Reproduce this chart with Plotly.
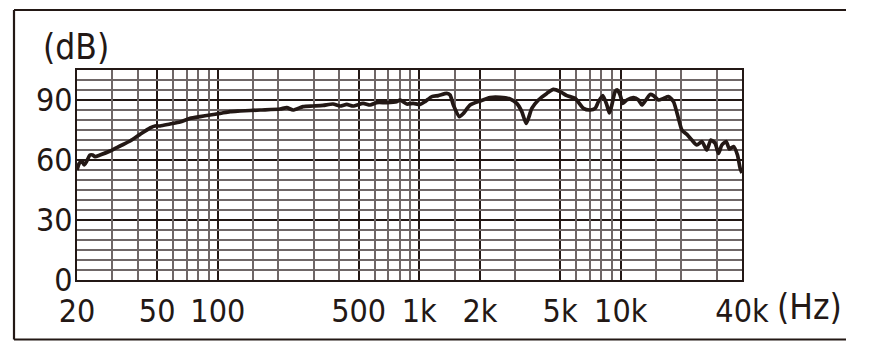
import math
import plotly.graph_objects as go

# ---- data ----
freq_hz = [20, 20.5, 21.1, 21.7, 22.3, 23.2, 23.9, 24.6, 26, 29.2, 32.7, 36.7, 41.1, 46.1, 48.8, 51.7,
           57.9, 64.9, 72.8, 81.6, 91.5, 102.6, 115, 128.9, 162, 203.6, 219.9, 236.3, 265, 297, 333,
           373, 404.6, 436.6, 469.4, 526, 570, 615, 690, 773, 803, 867, 932, 1010, 1069, 1154, 1244,
           1370, 1422, 1477, 1582, 1656, 1788, 2004, 2248, 2520, 2825, 3049, 3228, 3392, 3482, 3620,
           3904, 4298, 4634, 5004, 5402, 5940, 6532, 7050, 7466, 7752, 8152, 8534, 8790, 9036, 9384,
           9632, 9934, 10246, 10726, 11566, 12248, 12732, 13222, 14002, 14540, 15396, 16300, 17258,
           18274, 19348, 20116, 21300, 22550, 23880, 25280, 26770, 28030, 29440, 30570, 31770, 33380,
           34660, 36290, 37980, 39170, 40000]
level_db = [55, 58.3, 59.5, 57.5, 59.2, 62.5, 62.5, 61.7, 62.5, 64.5, 67, 69.5, 72.8, 76, 77, 77,
            78, 79, 80.8, 81.7, 82.5, 83.3, 84.2, 84.5, 85, 85.5, 86.2, 85, 86.7, 87, 87.3,
            88, 87, 87.8, 87, 88.3, 87.5, 88.7, 88.7, 89.2, 90, 88, 88.3, 87.8, 89.2, 91.7, 92.2,
            93.3, 92.5, 87.5, 81.7, 83.3, 87.5, 89.5, 91.2, 91.3, 90.5, 88.3, 84.2, 78.3, 80.8, 85.8,
            90, 93.3, 95.3, 94.2, 92.2, 90.8, 85.8, 85, 85.8, 89.2, 92.2, 87.5, 83.5, 87.5, 94.2,
            95, 92.5, 88.3, 90, 91.2, 90, 87.5, 89.5, 92.8, 92.2, 90, 90.8, 91.7,
            89.2, 80.8, 75, 72.8, 70, 67.5, 69.2, 65, 70, 68.3, 63.3, 67.5, 69.2,
            65.5, 66.7, 62.5, 55.8, 53.5]

x_tick_vals = [20, 50, 100, 500, 1000, 2000, 5000, 10000, 40000]
x_tick_text = ["20", "50", "100", "500", "1k", "2k", "5k", "10k", "40k"]
x_minor_vals = [30, 40, 60, 70, 80, 90, 150, 200, 300, 400, 600, 700, 800, 900, 1500, 3000,
                6000, 7000, 8000, 9000, 15000, 20000, 30000]
y_tick_vals = [0, 30, 60, 90]
y_minor_vals = [v for v in range(5, 105, 5) if v % 30 != 0]
x_range_hz = [20, 40000]
y_range_db = [0, 105]

INK = "#231815"
GRID = "#6f6767"
FONT = "DejaVu Sans Condensed"
FS = 32
FS_UNIT = 35

W, H = 878, 345
L, R, T, B = 77, 136, 70, 65
PW, PH = W - L - R, H - T - B


def px(x):
    return (x - L) / PW


def py(y):
    return (H - B - y) / PH


xr = [math.log10(v) for v in x_range_hz]

fig = go.Figure()
# invisible carrier trace for the minor-grid overlay axes
fig.add_trace(go.Scatter(x=freq_hz, y=level_db, xaxis="x2", yaxis="y2", mode="lines",
                         line=dict(width=0), opacity=0, hoverinfo="skip", showlegend=False))
fig.add_trace(go.Scatter(x=freq_hz, y=level_db, mode="lines",
                         line=dict(color=INK, width=3.7, shape="spline", smoothing=0.6),
                         hoverinfo="skip", showlegend=False))

fig.update_layout(
    xaxis=dict(type="log", range=xr, tickmode="array", tickvals=x_tick_vals, ticktext=x_tick_text,
               showgrid=True, gridcolor=INK, gridwidth=1.8, ticks="", ticklabelstandoff=2,
               tickfont=dict(family=FONT, size=FS, color=INK),
               showline=True, mirror=True, linecolor=INK, linewidth=2, zeroline=False),
    yaxis=dict(range=y_range_db, tickmode="array", tickvals=y_tick_vals,
               showgrid=True, gridcolor=INK, gridwidth=1.8, ticks="", ticklabelstandoff=-4,
               tickfont=dict(family=FONT, size=FS, color=INK),
               showline=True, mirror=True, linecolor=INK, linewidth=2, zeroline=False),
    xaxis2=dict(type="log", range=xr, overlaying="x", anchor="y2", tickmode="array",
                tickvals=x_minor_vals, showticklabels=False, ticks="",
                showgrid=True, gridcolor=GRID, gridwidth=1.5, zeroline=False, showline=False),
    yaxis2=dict(range=y_range_db, overlaying="y", anchor="x2", tickmode="array",
                tickvals=y_minor_vals, showticklabels=False, ticks="",
                showgrid=True, gridcolor=GRID, gridwidth=1.5, zeroline=False, showline=False),
)

# outer frame: left, top, bottom lines
frame = dict(type="line", xref="paper", yref="paper", line=dict(color=INK, width=2.2))
fig.add_shape(**frame, x0=px(14), x1=px(14), y0=py(10), y1=py(339.5))
fig.add_shape(**frame, x0=px(14), x1=px(846), y0=py(10), y1=py(10))
fig.add_shape(**frame, x0=px(14), x1=px(846), y0=py(339.5), y1=py(339.5))

fig.add_annotation(text="(dB)", xref="paper", yref="paper", x=px(76), y=py(47.5),
                   showarrow=False, xanchor="center", yanchor="middle",
                   font=dict(family=FONT, size=FS_UNIT, color=INK))
fig.add_annotation(text="(Hz)", xref="paper", yref="paper", x=px(809), y=py(307),
                   showarrow=False, xanchor="center", yanchor="middle",
                   font=dict(family=FONT, size=FS_UNIT, color=INK))

fig.update_layout(width=W, height=H, margin=dict(l=L, r=R, t=T, b=B),
                  paper_bgcolor="white", plot_bgcolor="white")

fig.write_html("out.html")
